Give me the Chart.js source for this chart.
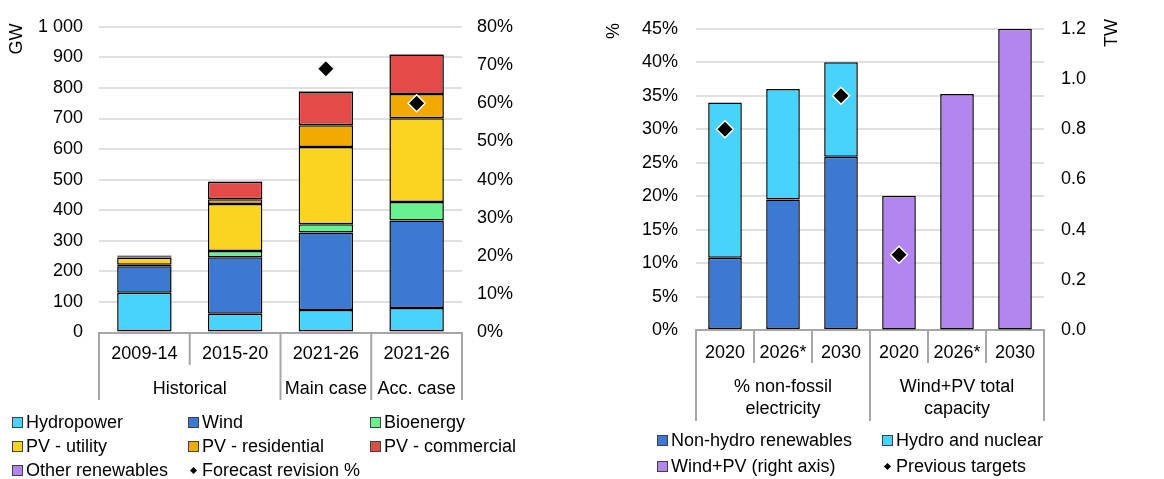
<!DOCTYPE html>
<html>
<head>
<meta charset="utf-8">
<script src="https://cdn.jsdelivr.net/npm/chart.js@4.4.1/dist/chart.umd.min.js"></script>
<style>
  html, body { margin: 0; padding: 0; background: #fff; }
  body { width: 1164px; height: 479px; position: relative; overflow: hidden;
         font-family: "Liberation Sans", Arial, sans-serif; color: #000; }
  canvas { position: absolute; top: 0; }
  #leftChart { left: 0; }
  #rightChart { left: 590px; }
  .legend { position: absolute; display: grid; font-size: 18px; }
  #leftLegend { left: 12px; top: 410px; grid-template-columns: 176px 182px auto; grid-auto-rows: 24px; }
  #rightLegend { left: 657px; top: 427px; grid-template-columns: 225px auto; grid-auto-rows: 26px; }
  .item { display: flex; align-items: center; white-space: nowrap; }
  .swatch { width: 9px; height: 9px; border: 1px solid #404040; margin-right: 3px; flex: none; }
  .mark { width: 11px; height: 11px; margin-right: 3px; position: relative; flex: none; }
  .mark::after { content: ''; position: absolute; left: 3px; top: 3px; width: 5px; height: 5px;
                 background: #000; transform: rotate(45deg); }
</style>
</head>
<body>
<canvas id="leftChart" width="590" height="479"></canvas>
<canvas id="rightChart" width="574" height="479"></canvas>
<div id="leftLegend" class="legend"></div>
<div id="rightLegend" class="legend"></div>

<script>
'use strict';

// ── Left chart data: capacity additions (GW) ─────────────
const leftCategories = ['2009-14', '2015-20', '2021-26', '2021-26'];
const leftGroups = [['Historical'], ['Main case'], ['Acc. case']];
const leftGroupSpans = [2, 1, 1];

const hydropower      = [130, 61, 74, 80];
const wind            = [87, 185, 253, 286];
const bioenergy       = [5, 21, 27, 61];
const pvUtility       = [23, 153, 253, 274];
const pvResidential   = [3, 16, 71, 79];
const pvCommercial    = [2, 57, 110, 129];
const otherRenewables = [2, 2, 2, 2];
const forecastRevision = [null, null, 69, 60];

// ── Right chart data: targets ────────────────────────────
const rightCategories = ['2020', '2026*', '2030', '2020', '2026*', '2030'];
const rightGroups = [['% non-fossil', 'electricity'], ['Wind+PV total', 'capacity']];
const rightGroupSpans = [3, 3];

const nonHydro       = [10.8, 19.5, 25.9, null, null, null];
const hydroNuclear   = [23.2, 16.5, 14.1, null, null, null];
const windPvTW       = [null, null, null, 0.535, 0.94, 1.2];
const prevTargetsPct = [30, null, 35, null, null, null];
const prevTargetsTW  = [null, null, null, 0.3, null, null];

const C = {
    hydro: '#48d3fd',
    wind: '#3d79d3',
    bio: '#67f28f',
    pvU: '#fdd322',
    pvR: '#f2a900',
    pvC: '#e44a47',
    other: '#b386ef'
};

Chart.defaults.font.family = '"Liberation Sans", Arial, sans-serif';
Chart.defaults.font.size = 18;
Chart.defaults.color = '#000';

const FONT = '18px "Liberation Sans", Arial, sans-serif';
const AXIS_GREY = '#a6a6a6';
const GRID_GREY = '#e0e0e0';

// draws category labels, group labels and separator lines below the x axis
const categoryAxis = {
    id: 'categoryAxis',
    afterDraw(chart, args, opts) {
        const { ctx, chartArea } = chart;
        const x = chart.scales.x;
        const n = opts.labels.length;
        const edges = [];
        for (let i = 0; i <= n; i++) {
            if (i === 0) edges.push(chartArea.left);
            else if (i === n) edges.push(chartArea.right);
            else edges.push((x.getPixelForValue(i - 1) + x.getPixelForValue(i)) / 2);
        }
        const groupEdges = [0];
        opts.spans.forEach(s => groupEdges.push(groupEdges[groupEdges.length - 1] + s));

        ctx.save();
        ctx.strokeStyle = AXIS_GREY;
        ctx.lineWidth = 2;
        edges.forEach((px, i) => {
            const bottom = groupEdges.includes(i) ? opts.outerBottom : opts.innerBottom;
            ctx.beginPath();
            ctx.moveTo(px, chartArea.bottom);
            ctx.lineTo(px, bottom);
            ctx.stroke();
        });

        ctx.fillStyle = '#000';
        ctx.font = FONT;
        ctx.textAlign = 'center';
        ctx.textBaseline = 'middle';
        opts.labels.forEach((lab, i) => {
            ctx.fillText(lab, (edges[i] + edges[i + 1]) / 2, opts.labelY);
        });
        opts.groups.forEach((lines, g) => {
            const cx = (edges[groupEdges[g]] + edges[groupEdges[g + 1]]) / 2;
            lines.forEach((line, k) => ctx.fillText(line, cx, opts.groupY + k * 22));
        });
        ctx.restore();
    }
};

// rotated axis unit titles
const unitTitles = {
    id: 'unitTitles',
    afterDraw(chart, args, opts) {
        const { ctx } = chart;
        ctx.save();
        ctx.fillStyle = '#000';
        ctx.font = FONT;
        ctx.textAlign = 'center';
        ctx.textBaseline = 'middle';
        opts.items.forEach(t => {
            ctx.save();
            ctx.translate(t.x, t.y);
            ctx.rotate(-Math.PI / 2);
            ctx.fillText(t.text, 0, 0);
            ctx.restore();
        });
        ctx.restore();
    }
};

const barStyle = (label, data, color, extra) => Object.assign({
    type: 'bar',
    label: label,
    data: data,
    backgroundColor: color,
    borderColor: '#000',
    borderWidth: 1.5,
    borderSkipped: false
}, extra || {});

const diamondStyle = (label, data, axis) => ({
    type: 'line',
    label: label,
    data: data,
    yAxisID: axis,
    showLine: false,
    pointStyle: 'rectRot',
    pointRadius: 8.5,
    pointBackgroundColor: '#000',
    pointBorderColor: '#fff',
    pointBorderWidth: 1.5,
    order: -1
});

const thousands = v => String(v).replace(/\B(?=(\d{3})+(?!\d))/g, ' ');

// ── Left chart ───────────────────────────────────────────
const leftDatasets = [
    barStyle('Hydropower', hydropower, C.hydro),
    barStyle('Wind', wind, C.wind),
    barStyle('Bioenergy', bioenergy, C.bio),
    barStyle('PV - utility', pvUtility, C.pvU),
    barStyle('PV - residential', pvResidential, C.pvR),
    barStyle('PV - commercial', pvCommercial, C.pvC),
    barStyle('Other renewables', otherRenewables, C.other, { borderWidth: 2.5 }),
    diamondStyle('Forecast revision %', forecastRevision, 'y2')
];
leftDatasets.slice(0, 7).forEach(d => { d.barPercentage = 0.6; d.categoryPercentage = 1; });

new Chart(document.getElementById('leftChart'), {
    data: { labels: leftCategories, datasets: leftDatasets },
    options: {
        responsive: false,
        animation: false,
        layout: { padding: { top: 23, left: 0, right: 0, bottom: 0 } },
        plugins: {
            legend: { display: false },
            tooltip: { enabled: false },
            categoryAxis: {
                labels: leftCategories, groups: leftGroups, spans: leftGroupSpans,
                labelY: 354, groupY: 389, innerBottom: 365, outerBottom: 400
            },
            unitTitles: { items: [{ text: 'GW', x: 17, y: 39 }] }
        },
        scales: {
            x: {
                stacked: true,
                ticks: { display: false },
                grid: { display: false },
                border: { display: true, color: AXIS_GREY, width: 2 },
                afterFit: s => { s.height = 146.5; }
            },
            y: {
                stacked: true,
                min: 0, max: 1000,
                ticks: { stepSize: 100, padding: 16, callback: thousands },
                grid: { color: GRID_GREY, lineWidth: 2, drawTicks: false },
                border: { display: false },
                afterFit: s => { s.width = 99; }
            },
            y2: {
                position: 'right',
                min: 0, max: 80,
                ticks: { stepSize: 10, padding: 15, callback: v => v + '%' },
                grid: { drawOnChartArea: false, drawTicks: false },
                border: { display: false },
                afterFit: s => { s.width = 128; }
            }
        }
    },
    plugins: [categoryAxis, unitTitles]
});

// ── Right chart ──────────────────────────────────────────
const rightDatasets = [
    barStyle('Non-hydro renewables', nonHydro, C.wind),
    barStyle('Hydro and nuclear', hydroNuclear, C.hydro),
    barStyle('Wind+PV (right axis)', windPvTW, C.other, { yAxisID: 'y2' }),
    diamondStyle('Previous targets', prevTargetsPct, 'y'),
    diamondStyle('Previous targets (TW)', prevTargetsTW, 'y2')
];
rightDatasets.slice(0, 3).forEach(d => { d.barPercentage = 0.58; d.categoryPercentage = 1; });

new Chart(document.getElementById('rightChart'), {
    data: { labels: rightCategories, datasets: rightDatasets },
    options: {
        responsive: false,
        animation: false,
        layout: { padding: { top: 23, left: 0, right: 0, bottom: 0 } },
        plugins: {
            legend: { display: false },
            tooltip: { enabled: false },
            categoryAxis: {
                labels: rightCategories, groups: rightGroups, spans: rightGroupSpans,
                labelY: 353, groupY: 387, innerBottom: 363, outerBottom: 421
            },
            unitTitles: { items: [{ text: '%', x: 24, y: 31 }, { text: 'TW', x: 522, y: 33 }] }
        },
        scales: {
            x: {
                stacked: true,
                ticks: { display: false },
                grid: { display: false },
                border: { display: true, color: AXIS_GREY, width: 2 },
                afterFit: s => { s.height = 149; }
            },
            y: {
                stacked: true,
                min: 0, max: 45,
                ticks: { stepSize: 5, padding: 18, callback: v => v + '%' },
                grid: { color: GRID_GREY, lineWidth: 2, drawTicks: false },
                border: { display: false },
                afterFit: s => { s.width = 106; }
            },
            y2: {
                position: 'right',
                stacked: false,
                min: 0, max: 1.2,
                ticks: { stepSize: 0.2, padding: 17, callback: v => v.toFixed(1) },
                grid: { drawOnChartArea: false, drawTicks: false },
                border: { display: false },
                afterFit: s => { s.width = 120; }
            }
        }
    },
    plugins: [categoryAxis, unitTitles]
});

// ── HTML legends ─────────────────────────────────────────
function buildLegend(el, items) {
    items.forEach(it => {
        const div = document.createElement('div');
        div.className = 'item';
        const m = document.createElement('span');
        if (it.marker) {
            m.className = 'mark';
        } else {
            m.className = 'swatch';
            m.style.background = it.color;
        }
        div.appendChild(m);
        div.appendChild(document.createTextNode(it.label));
        el.appendChild(div);
    });
}

buildLegend(document.getElementById('leftLegend'),
    leftDatasets.map(d => ({ label: d.label, color: d.backgroundColor, marker: d.type === 'line' })));
buildLegend(document.getElementById('rightLegend'),
    rightDatasets.slice(0, 4).map(d => ({ label: d.label, color: d.backgroundColor, marker: d.type === 'line' })));
</script>
</body>
</html>
